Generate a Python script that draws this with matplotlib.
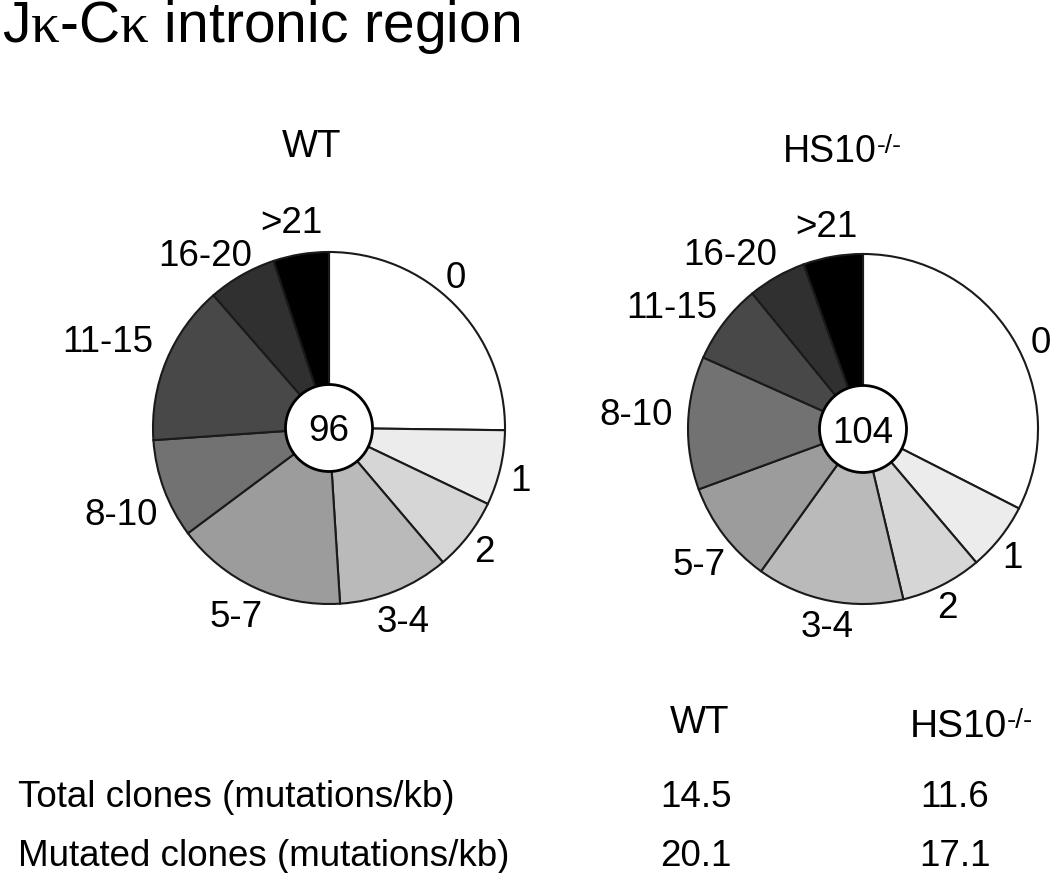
import matplotlib
matplotlib.use("Agg")
import matplotlib.pyplot as plt
from matplotlib.patches import Circle

plt.rcParams['font.family'] = ['Liberation Sans', 'DejaVu Sans']
plt.rcParams['mathtext.fontset'] = 'custom'
plt.rcParams['mathtext.rm'] = 'Liberation Serif'

# ---------------- data ----------------
categories = ["0", "1", "2", "3-4", "5-7", "8-10", "11-15", "16-20", ">21"]
wt_values = [25.2, 6.9, 6.7, 10.2, 15.8, 9.1, 14.7, 6.3, 5.1]      # % of clones
hs10_values = [32.5, 6.3, 7.5, 13.6, 9.5, 12.3, 7.4, 5.4, 5.5]    # % of clones
wt_total = 96
hs10_total = 104
row_labels = ["Total clones (mutations/kb)", "Mutated clones (mutations/kb)"]
wt_rates = ["14.5", "20.1"]
hs10_rates = ["11.6", "17.1"]

colors = ["#ffffff", "#ececec", "#d6d6d6", "#bababa", "#9c9c9c",
          "#727272", "#484848", "#303030", "#000000"]

W, H = 1050, 873
fig = plt.figure(figsize=(W / 100, H / 100), dpi=100)
ax = fig.add_axes([0, 0, 1, 1])


def Y(y):
    return H - y


FS = 26.5

# pies
pies = [
    dict(values=wt_values, center=(329, 428), r=176, total=wt_total, tb=441,
         labels={"0": (456, 288), "1": (520, 491), "2": (484, 562), "3-4": (403, 632),
                 "5-7": (236, 627), "8-10": (121, 525), "11-15": (108, 352),
                 "16-20": (205, 266), ">21": (291, 233)}),
    dict(values=hs10_values, center=(863, 429), r=175, total=hs10_total, tb=443,
         labels={"0": (1041, 353), "1": (1012, 568), "2": (947, 618), "3-4": (827, 637),
                 "5-7": (699, 575), "8-10": (636, 425), "11-15": (672, 318),
                 "16-20": (730, 265), ">21": (826, 237)}),
]

for p in pies:
    cx, cy = p["center"]
    ax.pie(p["values"], colors=colors, startangle=90, counterclock=False,
           center=(cx, Y(cy)), radius=p["r"],
           wedgeprops=dict(edgecolor="#1a1a1a", linewidth=1.5))
    ax.add_patch(Circle((cx, Y(cy)), 43.5, facecolor="white", edgecolor="black",
                        linewidth=2.0, zorder=5))
    ax.text(cx, Y(p["tb"]), str(p["total"]), ha="center", va="baseline",
            fontsize=FS, zorder=6)
    for cat in categories:
        lx, ly = p["labels"][cat]
        ax.text(lx, Y(ly), cat, ha="center", va="baseline", fontsize=FS)

ax.set_xlim(0, W)
ax.set_ylim(0, H)
ax.set_aspect("equal")
ax.axis("off")

# title
ax.text(2, Y(42), r"J$\mathrm{\kappa}$-C$\mathrm{\kappa}$ intronic region",
        ha="left", va="baseline", fontsize=41)

# pie titles
ax.text(312, Y(157), "WT", ha="center", va="baseline", fontsize=27.5)

fig.canvas.draw()
renderer = fig.canvas.get_renderer()
inv = ax.transData.inverted()


def hs10(x_left, baseline, fs, sup_fs, gap):
    t = ax.text(x_left, Y(baseline), "HS10", ha="left", va="baseline", fontsize=fs)
    bb = t.get_window_extent(renderer=renderer)
    x1 = inv.transform((bb.x1, 0))[0]
    ax.text(x1 + gap, Y(baseline - 9), "-/-", ha="left", va="baseline",
            fontsize=sup_fs)


hs10(783, 162, 27, 19, 0)

# table
ax.text(700, Y(733), "WT", ha="center", va="baseline", fontsize=27.5)
hs10(910, 737, 28, 20, 0)
row_base = [807, 866]
for lab, a, b, yb in zip(row_labels, wt_rates, hs10_rates, row_base):
    ax.text(18, Y(yb), lab, ha="left", va="baseline", fontsize=FS)
    ax.text(696, Y(yb), a, ha="center", va="baseline", fontsize=FS)
    ax.text(955, Y(yb), b, ha="center", va="baseline", fontsize=FS)

fig.savefig("out.png", dpi=100)
